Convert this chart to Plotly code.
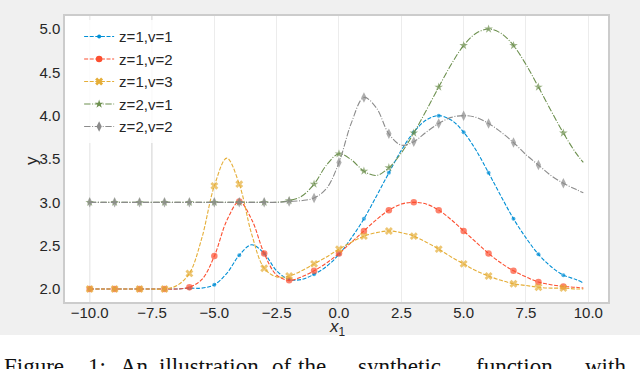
import plotly.graph_objects as go

# sample positions along x_1 (markers drawn at the integer ones)
x_vals = [i / 2 for i in range(-20, 20)] + [9.8]

y_z1_v1 = [2.00, 2.00, 2.00, 2.00, 2.00, 2.00, 2.00, 2.00, 2.01, 2.01,
           2.05, 2.18, 2.39, 2.51, 2.41, 2.21, 2.11, 2.11, 2.17, 2.26,
           2.40, 2.59, 2.81, 3.07, 3.34, 3.60, 3.81, 3.95, 4.00, 3.95,
           3.81, 3.60, 3.34, 3.07, 2.81, 2.59, 2.40, 2.26, 2.16, 2.11,
           2.07]
y_z1_v2 = [2.00, 2.00, 2.00, 2.00, 2.00, 2.00, 2.00, 2.00, 2.02, 2.11,
           2.38, 2.79, 3.01, 2.80, 2.41, 2.16, 2.10, 2.14, 2.21, 2.30,
           2.41, 2.54, 2.67, 2.80, 2.91, 2.98, 3.00, 2.98, 2.91, 2.80,
           2.67, 2.54, 2.41, 2.30, 2.21, 2.14, 2.08, 2.05, 2.03, 2.02,
           2.01]
y_z1_v3 = [2.00, 2.00, 2.00, 2.00, 2.00, 2.00, 2.00, 2.04, 2.18, 2.59,
           3.19, 3.51, 3.21, 2.63, 2.24, 2.14, 2.15, 2.21, 2.29, 2.37,
           2.46, 2.54, 2.61, 2.65, 2.67, 2.65, 2.61, 2.54, 2.46, 2.37,
           2.29, 2.21, 2.15, 2.10, 2.06, 2.04, 2.02, 2.01, 2.01, 2.00,
           2.00]
y_z2_v1 = [3.00, 3.00, 3.00, 3.00, 3.00, 3.00, 3.00, 3.00, 3.00, 3.00,
           3.00, 3.00, 3.00, 3.00, 3.00, 3.00, 3.02, 3.07, 3.21, 3.43,
           3.56, 3.49, 3.36, 3.31, 3.40, 3.57, 3.80, 4.06, 4.33, 4.59,
           4.81, 4.95, 5.00, 4.95, 4.81, 4.59, 4.33, 4.06, 3.80, 3.57,
           3.46]
y_z2_v2 = [3.00, 3.00, 3.00, 3.00, 3.00, 3.00, 3.00, 3.00, 3.00, 3.00,
           3.00, 3.00, 3.00, 3.00, 3.00, 3.00, 3.01, 3.02, 3.05, 3.16,
           3.46, 3.92, 4.21, 4.09, 3.79, 3.66, 3.70, 3.81, 3.91, 3.98,
           4.00, 3.98, 3.91, 3.81, 3.69, 3.55, 3.43, 3.31, 3.22, 3.15,
           3.11]

series_names = ["z=1,v=1", "z=1,v=2", "z=1,v=3", "z=2,v=1", "z=2,v=2"]
x_ticks = [-10, -7.5, -5, -2.5, 0, 2.5, 5, 7.5, 10]
y_ticks = [2.0, 2.5, 3.0, 3.5, 4.0, 4.5, 5.0]

# caption line below the figure panel (justified in the source, so word by word)
caption_words = ["Figure", "1:", "An", "illustration", "of", "the", "synthetic", "function", "with"]
caption_left_px = [2, 86, 118, 157, 270, 296, 356, 474, 583]

styles = [
    dict(color="#008fd5", dash="4px,1.6px", symbol="circle", size=4),
    dict(color="#fc4f30", dash="4px,1.6px", symbol="circle", size=6.5),
    dict(color="#e5ae38", dash="4px,1.6px", symbol="x", size=7),
    dict(color="#6d904f", dash="6.4px,1.6px,1px,1.6px", symbol="star", size=6.5),
    dict(color="#8b8b8b", dash="6.4px,1.6px,1px,1.6px", symbol="diamond-tall", size=7.5),
]

W, H = 640, 369
ML, MR, MT, MB = 65, 32, 16, 67
pw, ph = W - ML - MR, H - MT - MB


def px_x(px):
    return (px - ML) / pw


def px_y(py):
    return (H - MB - py) / ph


fig = go.Figure()
for name, ys, st in zip(series_names, [y_z1_v1, y_z1_v2, y_z1_v3, y_z2_v1, y_z2_v2], styles):
    sizes = [st["size"] if float(x).is_integer() else 0 for x in x_vals]
    fig.add_trace(go.Scatter(
        x=x_vals, y=ys, mode="lines+markers", name=name, legendgroup=name,
        showlegend=False, line=dict(color=st["color"], width=1.1, dash=st["dash"], shape="spline"),
        marker=dict(symbol=st["symbol"], size=sizes, color=st["color"], line=dict(width=0)),
        hoverinfo="skip"))
    # legend-only entry with a constant marker size
    fig.add_trace(go.Scatter(
        x=[None], y=[None], mode="lines+markers", name=name, legendgroup=name,
        line=dict(color=st["color"], width=1.1, dash=st["dash"]),
        marker=dict(symbol=st["symbol"], size=st["size"], color=st["color"], line=dict(width=0))))

# the two darker grid lines seen on the left
for gx in [-10, -7.5]:
    fig.add_shape(type="line", xref="x", yref="paper", x0=gx, x1=gx, y0=0, y1=1,
                  line=dict(color="#c6c6c6", width=1), layer="below")

# white strip under the grey figure panel, where the caption sits
fig.add_shape(type="rect", xref="paper", yref="paper", x0=-0.2, x1=1.2,
              y0=-0.3, y1=px_y(335), line=dict(width=0),
              fillcolor="white", layer="below")
for word, px in zip(caption_words, caption_left_px):
    fig.add_annotation(text=word, xref="paper", yref="paper", x=px_x(px),
                       y=px_y(352), xanchor="left", yanchor="top",
                       showarrow=False,
                       font=dict(family="Liberation Serif", size=23, color="#111111"))

# axis titles, placed by hand to sit as close to the tick labels as in the source
fig.add_annotation(text="<i>x</i><sub>1</sub>", xref="paper", yref="paper",
                   x=px_x(337), y=px_y(328), xanchor="center", yanchor="middle",
                   showarrow=False, font=dict(size=17, color="#262626"))
fig.add_annotation(text="y", xref="paper", yref="paper", textangle=-90,
                   x=px_x(31), y=px_y(160), xanchor="center", yanchor="middle",
                   showarrow=False, font=dict(size=17, color="#262626"))

fig.update_layout(
    width=W, height=H,
    margin=dict(l=ML, r=MR, t=MT, b=MB),
    paper_bgcolor="#f0f0f0", plot_bgcolor="white",
    font=dict(family="Liberation Sans", size=15, color="#262626"),
    legend=dict(x=0.026, y=0.985, xanchor="left", yanchor="top",
                bgcolor="rgba(255,255,255,0.85)", borderwidth=0,
                font=dict(size=15), tracegroupgap=0, itemwidth=30),
)
fig.update_xaxes(range=[-10.99, 10.79], tickvals=x_ticks, tickformat=".1f",
                 showgrid=True, gridcolor="#ececec", gridwidth=1, zeroline=False,
                 showline=True, mirror=True, linecolor="#cccccc", linewidth=1.5,
                 ticks="", ticklen=0, ticklabelstandoff=-4, automargin=False)
fig.update_yaxes(range=[1.85, 5.15], tickvals=y_ticks, tickformat=".1f",
                 showgrid=False, zeroline=False,
                 showline=True, mirror=True, linecolor="#cccccc", linewidth=1.5,
                 ticks="", ticklen=0, automargin=False)

# drop the default page margin so the figure sits at the window's corner
fig.write_html("out.html", config={"displayModeBar": False},
               post_script="document.body.style.margin='0';")
